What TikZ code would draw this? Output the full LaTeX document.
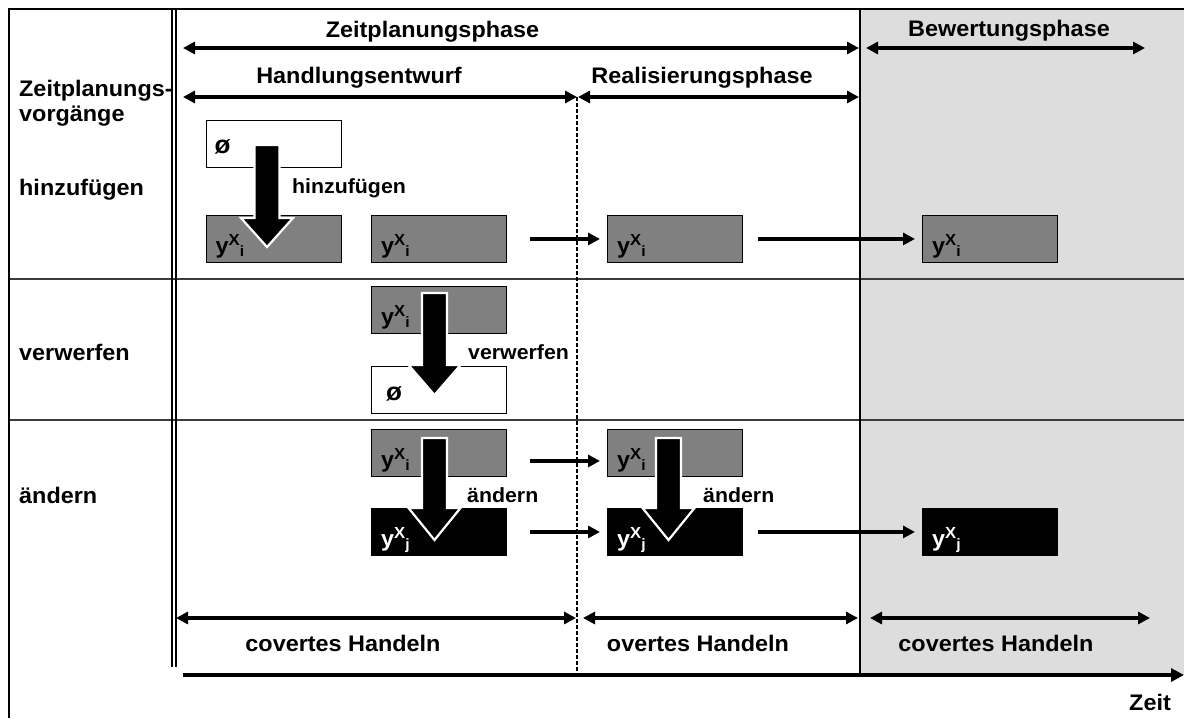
\documentclass[tikz,border=0pt]{standalone}
\usepackage{fontspec}
\setmainfont{Liberation Sans}[FakeStretch=1.04]
\usetikzlibrary{arrows.meta}
\definecolor{evalgray}{RGB}{221,221,221}
\definecolor{boxgray}{RGB}{128,128,128}
\definecolor{sepline}{RGB}{60,60,60}

% y with superscript X and a staggered subscript index
\newcommand{\yx}[1]{y\raisebox{8.5pt}{\fontsize{16}{16}\selectfont X}\raisebox{-3pt}{\fontsize{15}{15}\selectfont #1}}
% block arrow: centre x, top of shaft, base of head, tip
\newcommand{\blockarr}[4]{%
  \filldraw[fill=black, draw=white, line width=2.2pt, line join=miter]
    ({#1-12.5},#2) -- ({#1+12.5},#2) -- ({#1+12.5},#3) -- ({#1+26},#3) -- (#1,#4)
    -- ({#1-26},#3) -- ({#1-12.5},#3) -- cycle;}

\begin{document}
\begin{tikzpicture}[x=1pt, y=-1pt,
  font=\bfseries\fontsize{22.5}{26}\selectfont,
  lbl/.style={inner sep=0pt},
  oplbl/.style={inner sep=0pt, anchor=base west, font=\bfseries\fontsize{20.5}{24}\selectfont},
  empty/.style={inner sep=0pt, anchor=base west, font=\bfseries\fontsize{25}{28}\selectfont},
  box/.style={draw=black, line width=0.9pt, minimum width=135pt, minimum height=47pt,
    inner sep=0pt, anchor=north west},
  oldbox/.style={box, fill=boxgray},
  newbox/.style={box, fill=black},
  emptybox/.style={box, fill=white},
  phase/.style={line width=4pt, {Triangle[length=12pt,width=12pt]}-{Triangle[length=12pt,width=12pt]}},
  conn/.style={line width=3.6pt, -{Triangle[length=12pt,width=12pt]}},
  sep/.style={draw=sepline, line width=1.2pt},
]
\useasboundingbox (0,0) rectangle (1184,718);

% evaluation phase background
\fill[evalgray] (860,9) rectangle (1184,675);

% frame, row separators and phase borders
\draw[sep] (9,279) -- (1184,279);
\draw[sep] (9,420) -- (1184,420);
\draw[line width=2.6pt] (9,718) -- (9,9) -- (1184,9);
\draw[line width=2.1pt] (172.3,9) -- (172.3,667);
\draw[line width=2.1pt] (175.8,9) -- (175.8,667);
\draw[line width=2.6pt] (860,9) -- (860,675);
\draw[line width=1.5pt, dash pattern=on 4pt off 2pt] (577,97) -- (577,675);

% phase arrows
\coordinate (zl) at (183,48);  \coordinate (zr) at (859,48);
\coordinate (bl) at (866,48);  \coordinate (br) at (1145,48);
\coordinate (hl) at (183,97);  \coordinate (hr) at (577,97);
\coordinate (rl) at (578,97);  \coordinate (rr) at (859,97);
\coordinate (cl) at (176,618); \coordinate (cr) at (576,618);
\coordinate (ol) at (583,618); \coordinate (or) at (858,618);
\coordinate (kl) at (870,618); \coordinate (kr) at (1150,618);
\coordinate (tl) at (183,675); \coordinate (tr) at (1184,675);
\draw[phase] (zl) -- (zr);
\draw[phase] (bl) -- (br);
\draw[phase] (hl) -- (hr);
\draw[phase] (rl) -- (rr);
\draw[phase] (cl) -- (cr);
\draw[phase] (ol) -- (or);
\draw[phase] (kl) -- (kr);
\draw[line width=4.5pt, -{Triangle[length=13pt,width=13pt]}] (tl) -- (tr);

% phase labels
\node[lbl, anchor=base] (pz) at (432.5,37) {Zeitplanungsphase};
\node[lbl, anchor=base] (pb) at (1009,36) {Bewertungsphase};
\node[lbl, anchor=base] (ph) at (359,83) {Handlungsentwurf};
\node[lbl, anchor=base] (pr) at (702,83) {Realisierungsphase};
\node[lbl, anchor=base] (hc1) at (343,651) {covertes Handeln};
\node[lbl, anchor=base] (ho) at (698,651) {overtes Handeln};
\node[lbl, anchor=base] (hc2) at (996,651) {covertes Handeln};
\node[lbl, anchor=base west] (zeit) at (1129,710) {Zeit};

% row labels
\node[lbl, anchor=base west] (rz1) at (19,96) {Zeitplanungs-};
\node[lbl, anchor=base west] (rz2) at (19,121) {vorgänge};
\node[lbl, anchor=base west] (rh) at (19,195) {hinzufügen};
\node[lbl, anchor=base west] (rv) at (19,360) {verwerfen};
\node[lbl, anchor=base west] (ra) at (19,503) {ändern};

% plan element boxes
\node[emptybox] (o1) at (205.5,120) {};
\node[oldbox]   (a1) at (205.5,215) {};
\node[oldbox]   (a2) at (371,215) {};
\node[oldbox]   (a3) at (607,215) {};
\node[oldbox]   (a4) at (922,215) {};
\node[oldbox]   (v1) at (371,286) {};
\node[emptybox] (v2) at (371,366) {};
\node[oldbox]   (c1) at (371,429) {};
\node[newbox]   (c2) at (371,508) {};
\node[oldbox]   (c3) at (607,429) {};
\node[newbox]   (c4) at (607,508) {};
\node[newbox]   (c5) at (922,508) {};

% block arrows for the planning operations
\blockarr{267}{145}{218}{247}
\blockarr{434.5}{293}{365}{395}
\blockarr{434.5}{438}{508}{540}
\blockarr{668.5}{438}{508}{540}

% box contents
\node[empty] at ([xshift=9pt,yshift=14pt]o1.south west) {ø};
\node[empty] at ([xshift=15pt,yshift=13pt]v2.south west) {ø};
\foreach \b in {a1,a2,a3,a4,v1,c1,c3}
  \node[lbl, anchor=base west] at ([xshift=10pt,yshift=9pt]\b.south west) {\yx{i}};
\foreach \b in {c2,c4,c5}
  \node[lbl, anchor=base west, text=white] at ([xshift=10pt,yshift=9pt]\b.south west) {\yx{j}};

% operation labels
\node[oplbl] (lh) at (292,193) {hinzufügen};
\node[oplbl] (lv) at (468,359) {verwerfen};
\node[oplbl] (la1) at (467,502) {ändern};
\node[oplbl] (la2) at (703,502) {ändern};

% carrying plan elements forward in time
\draw[conn] ([xshift=23pt]a2.east) -- ([xshift=-7pt]a3.west);
\draw[conn] ([xshift=15pt]a3.east) -- ([xshift=-7pt]a4.west);
\draw[conn] ([xshift=23pt,yshift=-8pt]c1.east) -- ([xshift=-7pt,yshift=-8pt]c3.west);
\draw[conn] ([xshift=23pt]c2.east) -- ([xshift=-7pt]c4.west);
\draw[conn] ([xshift=15pt]c4.east) -- ([xshift=-7pt]c5.west);
\end{tikzpicture}
\end{document}
